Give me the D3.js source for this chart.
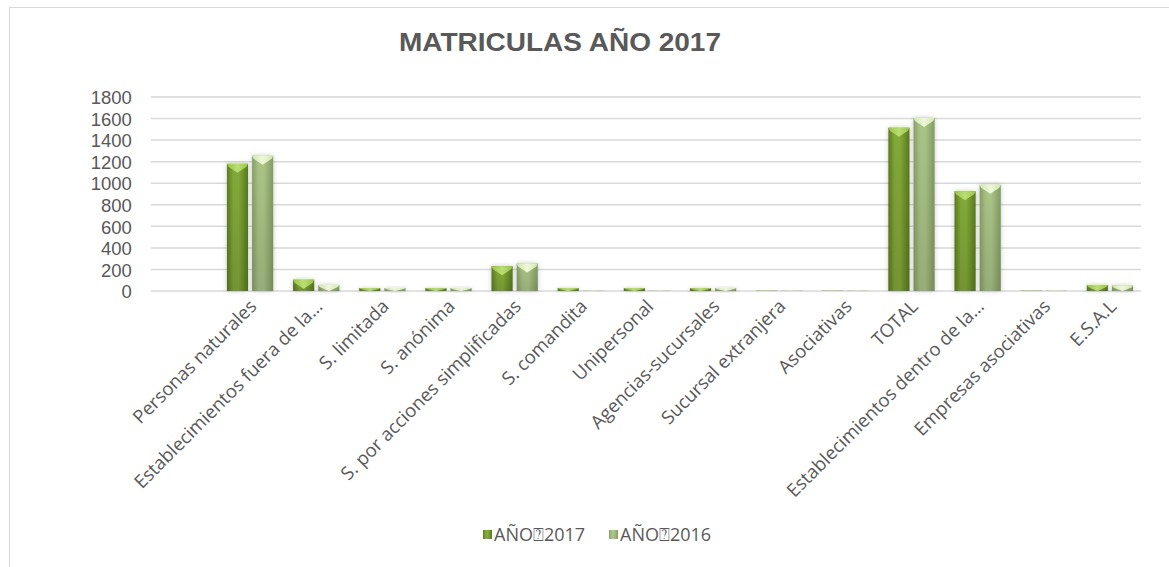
<!DOCTYPE html>
<html>
<head>
<meta charset="utf-8">
<script src="https://cdn.jsdelivr.net/npm/d3@7"></script>
<style>
  html, body { margin: 0; padding: 0; background: #fff; }
  svg { display: block; }
</style>
</head>
<body>
<script>
const categories = ["Personas naturales", "Establecimientos fuera de la…", "S. limitada", "S. anónima",
  "S. por acciones simplificadas", "S. comandita", "Unipersonal", "Agencias-sucursales",
  "Sucursal extranjera", "Asociativas", "TOTAL", "Establecimientos dentro de la…",
  "Empresas asociativas", "E.S.A.L"];
const values2017 = [1180, 105, 28, 28, 230, 28, 28, 28, 3, 3, 1515, 925, 3, 55];
const values2016 = [1255, 55, 28, 28, 255, 3, 3, 28, 3, 3, 1605, 985, 3, 50];
const seriesNames = ["AÑO\u23702017", "AÑO\u23702016"];
const yTicks = [0, 200, 400, 600, 800, 1000, 1200, 1400, 1600, 1800];
const titleText = "MATRICULAS AÑO 2017";

const W = 1169, H = 567;
const svg = d3.select("body").append("svg").attr("width", W).attr("height", H);
const defs = svg.append("defs");

function hGrad(id, stops) {
  const g = defs.append("linearGradient").attr("id", id).attr("x1", "0").attr("x2", "1").attr("y1", "0").attr("y2", "0");
  stops.forEach(s => g.append("stop").attr("offset", s[0]).attr("stop-color", s[1]));
}
hGrad("g2017", [["0%", "#5b7c1f"], ["30%", "#82a838"], ["55%", "#84aa3a"], ["100%", "#587a1d"]]);
hGrad("g2016", [["0%", "#87a066"], ["30%", "#a9c386"], ["55%", "#abc588"], ["100%", "#839c63"]]);
hGrad("b2017", [["0%", "#9cc24f"], ["50%", "#b9de72"], ["100%", "#9cc24f"]]);
hGrad("b2016", [["0%", "#d3e5b2"], ["50%", "#eef7da"], ["100%", "#d3e5b2"]]);
const vs = defs.append("linearGradient").attr("id", "vshade").attr("x1", "0").attr("x2", "0").attr("y1", "0").attr("y2", "1");
vs.append("stop").attr("offset", "0%").attr("stop-color", "#000").attr("stop-opacity", 0);
vs.append("stop").attr("offset", "100%").attr("stop-color", "#000").attr("stop-opacity", 0.12);
const f = defs.append("filter").attr("id", "shadow").attr("x", "-50%").attr("y", "-50%").attr("width", "200%").attr("height", "200%");
f.append("feDropShadow").attr("dx", 0).attr("dy", 0).attr("stdDeviation", 2.5).attr("flood-color", "#000").attr("flood-opacity", 0.22);

// chart border
svg.append("rect").attr("x", 9.5).attr("y", 7.5).attr("width", 1300).attr("height", 700)
  .attr("fill", "none").attr("stroke", "#d9d9d9").attr("stroke-width", 1);

// title
svg.append("text").attr("x", 560).attr("y", 51).attr("text-anchor", "middle")
  .attr("font-family", "Liberation Sans, Arial, sans-serif").attr("font-weight", "bold")
  .attr("font-size", 26).attr("fill", "#595959")
  .attr("textLength", 322).attr("lengthAdjust", "spacingAndGlyphs").text(titleText);

const x = d3.scaleBand().domain(categories).range([217, 1143]).paddingInner(0.3).paddingOuter(0.15);
const xs = d3.scaleBand().domain([0, 1]).range([0, x.bandwidth()]).paddingInner(0.16);
const y = d3.scaleLinear().domain([0, 1800]).range([291, 97]);
const gridX0 = x.range()[0] - x.step();
const gridX1 = x.range()[1] - 2;

// gridlines
svg.append("g").selectAll("line").data(yTicks).join("line")
  .attr("x1", gridX0).attr("x2", gridX1)
  .attr("y1", d => y(d)).attr("y2", d => y(d))
  .attr("stroke", "#d9d9d9").attr("stroke-width", 1.5);

// y axis labels via d3 axis
const yAxis = svg.append("g").attr("transform", `translate(${gridX0 - 19},0)`)
  .call(d3.axisLeft(y).tickValues(yTicks).tickFormat(d3.format("d")).tickSize(0).tickPadding(0));
yAxis.select(".domain").remove();
yAxis.selectAll("text").attr("font-family", "Liberation Sans, Arial, sans-serif").attr("font-size", 18.5)
  .attr("fill", "#595959").attr("x", 0).attr("dy", "0.36em");

// bars
const series = [values2017, values2016];
const fills = ["url(#g2017)", "url(#g2016)"];
const bevels = ["url(#b2017)", "url(#b2016)"];
series.forEach((vals, si) => {
  const g = svg.append("g");
  const bars = g.selectAll("g.bar").data(vals.map((v, i) => ({ v, c: categories[i] }))).join("g").attr("class", "bar");
  bars.each(function(d) {
    const bx = x(d.c) + xs(si), bw = xs.bandwidth();
    const top = y(d.v), h = y(0) - top;
    const grp = d3.select(this);
    grp.append("rect").attr("x", bx).attr("y", top).attr("width", bw).attr("height", h)
      .attr("fill", fills[si]).attr("filter", "url(#shadow)");
    grp.append("rect").attr("x", bx).attr("y", top).attr("width", bw).attr("height", h)
      .attr("fill", "url(#vshade)");
    const depth = Math.min(9, h);
    const k = depth / 9;
    const pts = [[bx, top], [bx + bw, top], [bx + bw - 1.5, top + 3 * k], [bx + bw / 2, top + 9 * k], [bx + 1.5, top + 3 * k]];
    grp.append("polygon").attr("points", pts.map(p => p.join(",")).join(" ")).attr("fill", bevels[si]);
  });
});

// category labels
const xAxis = svg.append("g").attr("transform", `translate(0,${y(0)})`)
  .call(d3.axisBottom(x).tickSize(0).tickPadding(0));
xAxis.select(".domain").remove();
xAxis.selectAll(".tick text")
  .attr("font-family", "Open Sans, sans-serif").attr("font-size", 18.5).attr("fill", "#595959")
  .attr("text-anchor", "end")
  .attr("transform", "translate(3,12) rotate(-45)")
  .attr("x", 0).attr("y", 0).attr("dy", "0.35em");

// legend
const legend = svg.append("g").attr("transform", "translate(0,535)");
const legX = [483, 609];
const legFill = ["url(#g2017)", "url(#g2016)"];
seriesNames.forEach((n, i) => {
  legend.append("rect").attr("x", legX[i]).attr("y", -5).attr("width", 9).attr("height", 9).attr("fill", legFill[i]);
  legend.append("text").attr("x", legX[i] + 11).attr("y", 0).attr("dy", "0.35em")
    .attr("font-family", "Open Sans, sans-serif").attr("font-size", 18).attr("fill", "#595959").text(n);
});
</script>
</body>
</html>
